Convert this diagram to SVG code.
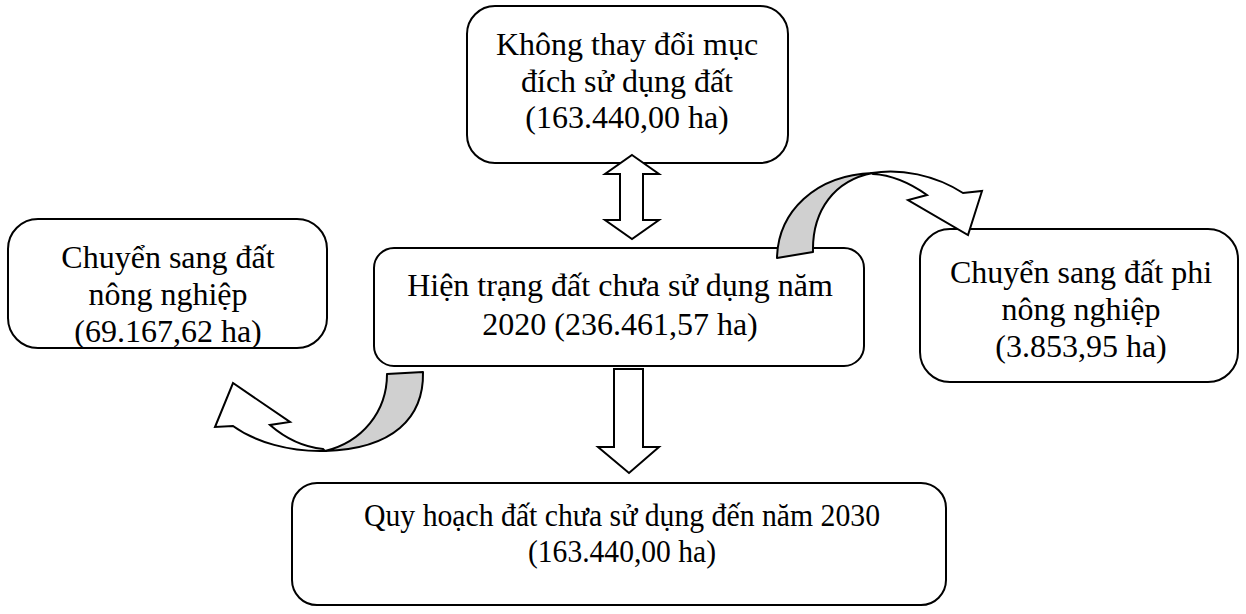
<svg xmlns="http://www.w3.org/2000/svg" width="1246" height="614" viewBox="0 0 1246 614">
<style>
.box{fill:#fff;stroke:#000;stroke-width:2}
.t{font-family:"Liberation Serif","Times New Roman",serif;font-size:32px;fill:#000;text-anchor:middle}
.ar{fill:#fff;stroke:#000;stroke-width:2;stroke-linejoin:miter}
.gr{fill:#d0d0d0;stroke:#000;stroke-width:2;stroke-linejoin:round}
</style>
<rect width="1246" height="614" fill="#fff"/>
<g id="node-top">
<rect class="box" x="467" y="6" width="321" height="157" rx="28"/>
<text class="t" x="627" y="55">Không thay đổi mục</text>
<text class="t" x="627" y="92">đích sử dụng đất</text>
<text class="t" x="627" y="128">(163.440,00 ha)</text>
</g>
<g id="node-left">
<rect class="box" x="8" y="219" width="319" height="129" rx="30"/>
<text class="t" x="168" y="268">Chuyển sang đất</text>
<text class="t" x="168" y="305">nông nghiệp</text>
<text class="t" x="168" y="342">(69.167,62 ha)</text>
</g>
<g id="node-center">
<rect class="box" x="374" y="248" width="490" height="118" rx="20"/>
<text class="t" x="620" y="296">Hiện trạng đất chưa sử dụng năm</text>
<text class="t" x="620" y="335">2020 (236.461,57 ha)</text>
</g>
<g id="node-right">
<rect class="box" x="920" y="229" width="318" height="153" rx="30"/>
<text class="t" x="1081" y="283">Chuyển sang đất phi</text>
<text class="t" x="1081" y="320">nông nghiệp</text>
<text class="t" x="1081" y="357">(3.853,95 ha)</text>
</g>
<g id="node-bottom">
<rect class="box" x="292" y="483" width="654" height="122" rx="25"/>
<text class="t" x="622" y="526" textLength="516" lengthAdjust="spacingAndGlyphs">Quy hoạch đất chưa sử dụng đến năm 2030</text>
<text class="t" x="622" y="562" textLength="188" lengthAdjust="spacingAndGlyphs">(163.440,00 ha)</text>
</g>
<g id="connectors">
<path class="ar" d="M632,155 L659,174 L643,174 L643,220 L659,220 L632,239 L605,220 L620,220 L620,174 L605,174 Z"/>
<path class="ar" d="M614,369 L643,369 L643,447 L659,447 L629,473 L598,447 L614,447 Z"/>
<path class="ar" d="M325,451 C290,452 255,442 233,426 L215,427 L233,383 L290,422 L270,425 C285,438 303,447 323,449 Z"/>
<path class="gr" d="M387,374 L423,372 C424,418 393,449 325,451 C362,442 387,412 387,374 Z"/>
<path class="ar" d="M872,173 C900,168 935,175 963,193 L982,191 L968,235 L908,200 L927,195 C910,183 892,175 873,174 Z"/>
<path class="gr" d="M777,258 L813,252 C812,210 835,180 873,173 C815,175 778,212 777,258 Z"/>
</g>
</svg>
